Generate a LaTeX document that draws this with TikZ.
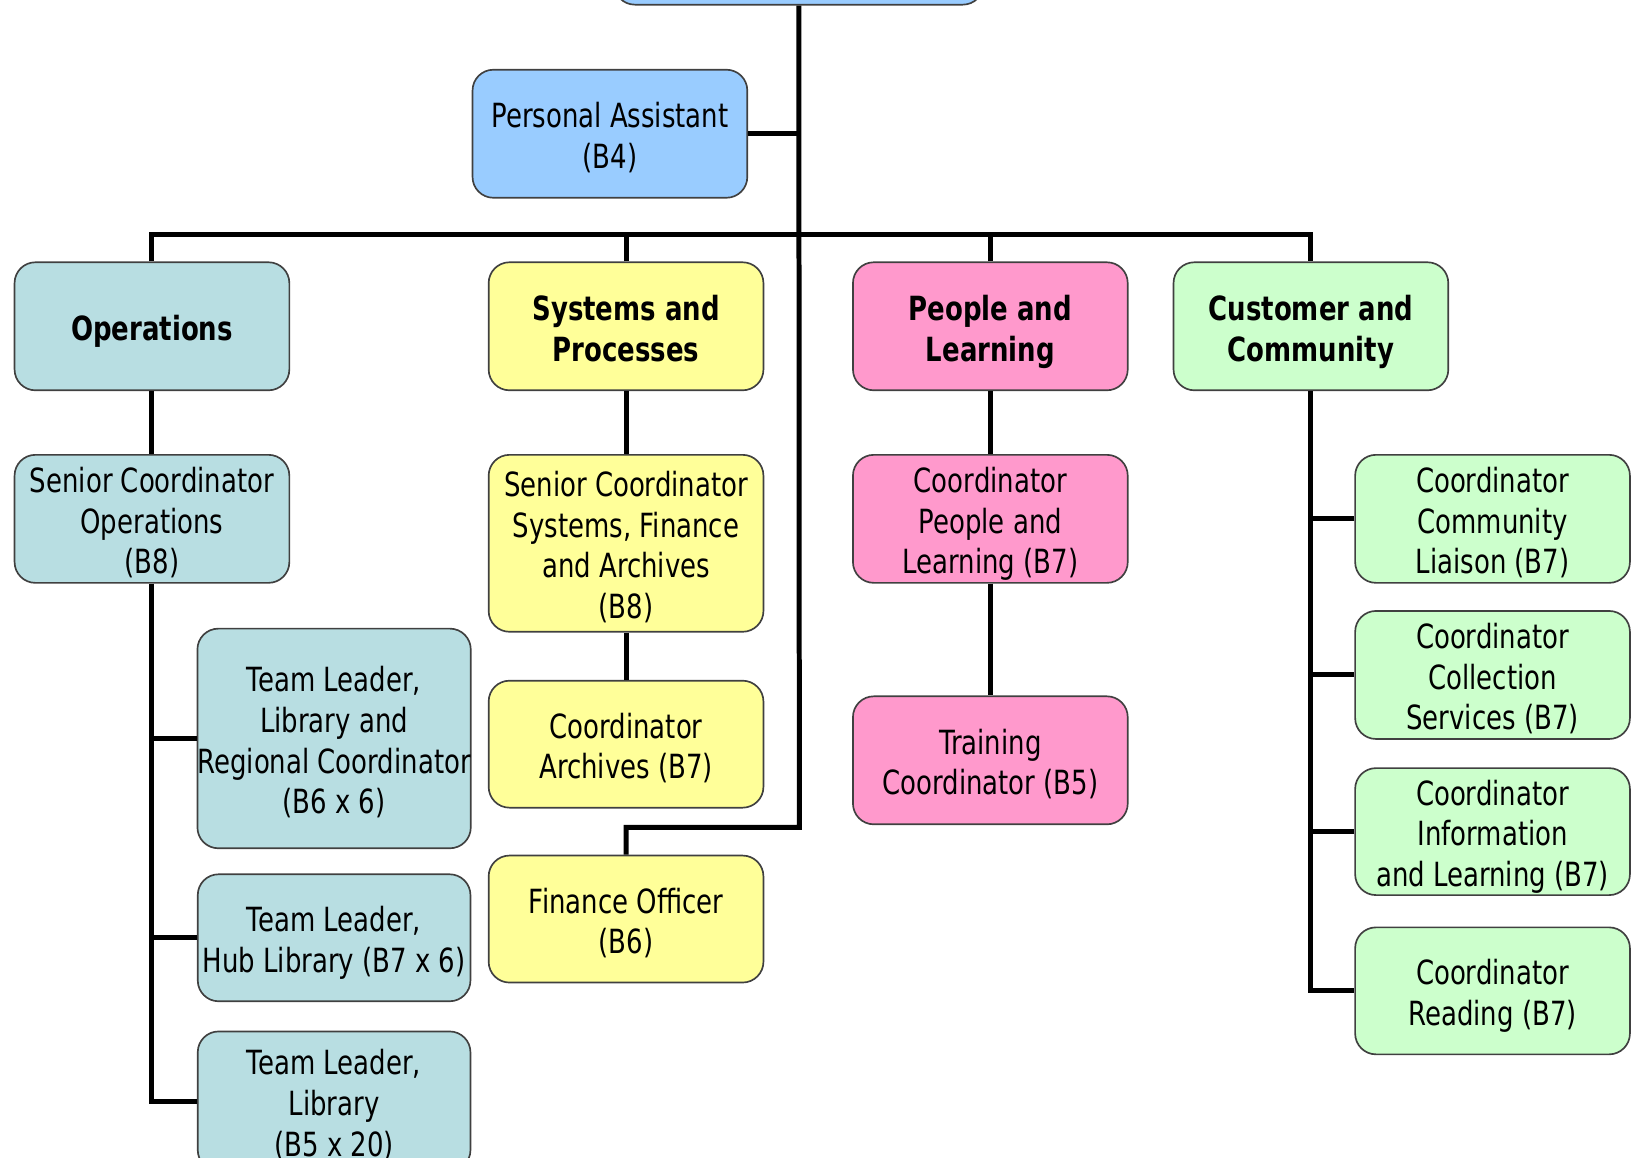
\documentclass[tikz,border=0pt]{standalone}
\usepackage{fontspec}
\setmainfont[FakeStretch=0.78]{DejaVu Sans}
\definecolor{cblue}{HTML}{99CCFF}
\definecolor{cteal}{HTML}{B8DEE2}
\definecolor{cyellow}{HTML}{FFFF99}
\definecolor{cpink}{HTML}{FF99CC}
\definecolor{cgreen}{HTML}{CCFFCC}
\definecolor{cborder}{HTML}{404040}
\newcommand\bxt[1]{\setbox0\hbox{\begin{tabular}{@{}c@{}}#1\end{tabular}}\raisebox{-3pt}[\ht0][\dp0]{\copy0}}
\begin{document}
\begin{tikzpicture}[x=0.5pt,y=-0.5pt,
  orgbox/.style={draw=cborder, line width=0.8pt, rounded corners=10pt,
    minimum width=132pt, minimum height=61.5pt, inner sep=0pt, align=center,
    font=\fontsize{16}{19.5}\selectfont},
  headbox/.style={orgbox, font=\fontsize{16}{19.8}\selectfont\bfseries},
  conn/.style={line width=2.4pt, black, line join=miter}]
\useasboundingbox (0,0) rectangle (1568,1112);
\clip (0,0) rectangle (1568,1112);

% boxes
\node[orgbox, fill=cblue, minimum width=177.5pt] (top) at (767.5,-57) {};
\node[orgbox, fill=cblue] (pa) at (586,128.5) {\bxt{Personal Assistant\\(B4)}};

\node[headbox, fill=cteal] (ops) at (146,313.5) {\bxt{Operations}};
\node[headbox, fill=cyellow] (sys) at (601.5,313.5) {\bxt{Systems and\\Processes}};
\node[headbox, fill=cpink] (ppl) at (951.5,313.5) {\bxt{People and\\Learning}};
\node[headbox, fill=cgreen] (cust) at (1259.5,313.5) {\bxt{Customer and\\Community}};

\node[orgbox, fill=cteal] (srops) at (146,498.5) {\bxt{Senior Coordinator\\Operations\\(B8)}};
\node[orgbox, fill=cteal, minimum width=131pt, minimum height=105.5pt] (tla) at (321,709.5) {\bxt{Team Leader,\\Library and\\Regional Coordinator\\(B6 x 6)}};
\node[orgbox, fill=cteal, minimum width=131pt, minimum height=61pt] (tlb) at (321,901) {\bxt{Team Leader,\\Hub Library (B7 x 6)}};
\node[orgbox, fill=cteal, minimum width=131pt, minimum height=67pt] (tlc) at (321,1058) {\bxt{Team Leader,\\Library\\(B5 x 20)}};

\node[orgbox, fill=cyellow, minimum height=85pt] (srsys) at (601.5,522) {\bxt{Senior Coordinator\\Systems, Finance\\and Archives\\(B8)}};
\node[orgbox, fill=cyellow, minimum height=61pt] (arch) at (601.5,715) {\bxt{Coordinator\\Archives (B7)}};
\node[orgbox, fill=cyellow, minimum height=61pt] (fin) at (601.5,883) {\bxt{Finance Officer\\(B6)}};

\node[orgbox, fill=cpink] (plc) at (951.5,498.5) {\bxt{Coordinator\\People and\\Learning (B7)}};
\node[orgbox, fill=cpink] (train) at (951.5,730.5) {\bxt{Training\\Coordinator (B5)}};

\node[orgbox, fill=cgreen] (comm) at (1434,498.5) {\bxt{Coordinator\\Community\\Liaison (B7)}};
\node[orgbox, fill=cgreen] (coll) at (1434,648.5) {\bxt{Coordinator\\Collection\\Services (B7)}};
\node[orgbox, fill=cgreen, minimum height=61pt] (info) at (1434,799) {\bxt{Coordinator\\Information\\and Learning (B7)}};
\node[orgbox, fill=cgreen, minimum height=61pt] (read) at (1434,952) {\bxt{Coordinator\\Reading (B7)}};

% connectors
\coordinate (bend) at (768,795);
\coordinate (busl) at (146,225);
\draw[conn] (top.south) -- (bend) -| (fin.north);
\draw[conn] (pa.east) -- (pa.east -| top.south);
\draw[conn] (ops.north) -- (busl) -| (cust.north);
\draw[conn] (sys.north) -- (sys.north |- busl);
\draw[conn] (ppl.north) -- (ppl.north |- busl);

\draw[conn] (ops.south) -- (srops.north);
\draw[conn] (srops.south) |- (tlc.west);
\draw[conn] (tla.west) -- (tla.west -| srops.south);
\draw[conn] (tlb.west) -- (tlb.west -| srops.south);

\draw[conn] (sys.south) -- (srsys.north);
\draw[conn] (srsys.south) -- (arch.north);

\draw[conn] (ppl.south) -- (plc.north);
\draw[conn] (plc.south) -- (train.north);

\draw[conn] (cust.south) |- (read.west);
\draw[conn] (comm.west) -- (comm.west -| cust.south);
\draw[conn] (coll.west) -- (coll.west -| cust.south);
\draw[conn] (info.west) -- (info.west -| cust.south);
\end{tikzpicture}
\end{document}
